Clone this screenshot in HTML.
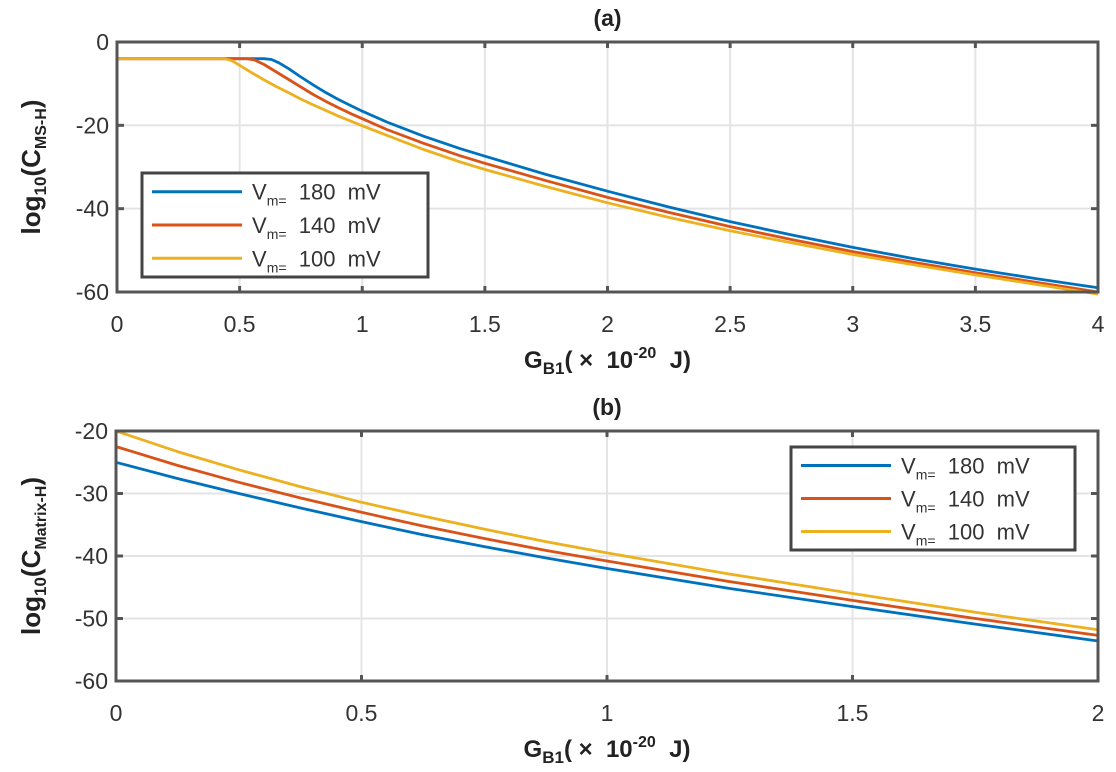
<!DOCTYPE html>
<html><head><meta charset="utf-8"><style>
body{margin:0;background:#fff;}
svg{display:block;font-family:"Liberation Sans",Arial,sans-serif;}
.tick{font-size:23px;fill:#333;}
.ttl{font-size:24px;font-weight:bold;fill:#222;}
.ytl{font-size:26px;font-weight:bold;fill:#222;}
.leg{font-size:22px;fill:#333;}
</style></head><body>
<svg id="chart" width="1116" height="772" viewBox="0 0 1116 772"></svg>
<script>
// ---- panel (a) data ----
const aBlueX=[0,0.3,0.6,0.63,0.66,0.7,0.75,0.8,0.85,0.9,0.95,1,1.1,1.25,1.4,1.5,1.75,2,2.25,2.5,2.75,3,3.25,3.5,3.75,4];
const aBlueY=[-4,-4,-4,-4.2,-5,-6.4,-8.4,-10.3,-12.1,-13.7,-15.2,-16.6,-19.2,-22.6,-25.6,-27.4,-31.8,-35.8,-39.6,-43.1,-46.3,-49.3,-52,-54.5,-56.8,-59];
const aRedX=[0,0.3,0.53,0.56,0.6,0.65,0.7,0.75,0.8,0.85,0.9,0.95,1,1.1,1.25,1.4,1.5,1.75,2,2.25,2.5,2.75,3,3.25,3.5,3.75,4];
const aRedY=[-4,-4,-4,-4.3,-5.4,-7.2,-9,-10.8,-12.6,-14.2,-15.7,-17.1,-18.4,-21,-24.3,-27.3,-29.1,-33.3,-37.3,-40.9,-44.3,-47.4,-50.3,-52.9,-55.4,-57.7,-60];
const aYelX=[0,0.3,0.44,0.47,0.5,0.55,0.6,0.65,0.7,0.75,0.8,0.85,0.9,0.95,1,1.1,1.25,1.4,1.5,1.75,2,2.25,2.5,2.75,3,3.25,3.5,3.75,4];
const aYelY=[-4,-4,-4,-4.5,-5.6,-7.4,-9.1,-10.7,-12.2,-13.7,-15.1,-16.4,-17.7,-18.9,-20.1,-22.4,-25.8,-28.8,-30.6,-34.7,-38.6,-42.1,-45.3,-48.2,-51,-53.5,-55.9,-58.2,-60.5];
const aXTicks=[0,0.5,1,1.5,2,2.5,3,3.5,4];
const aYTicks=[0,-20,-40,-60];
// ---- panel (b) data ----
const bX=[0,0.125,0.25,0.375,0.5,0.625,0.75,0.875,1,1.25,1.5,1.75,2];
const bBlue=[-25,-27.6,-30,-32.3,-34.5,-36.6,-38.5,-40.3,-42,-45.2,-48.1,-50.9,-53.6];
const bRed=[-22.5,-25.5,-28.2,-30.7,-33,-35.2,-37.2,-39.1,-40.8,-44.1,-47.1,-50,-52.7];
const bYel=[-20,-23.3,-26.2,-28.9,-31.4,-33.6,-35.7,-37.7,-39.5,-42.9,-46,-49,-51.8];
const bXTicks=[0,0.5,1,1.5,2];
const bYTicks=[-20,-30,-40,-50,-60];
const labels=["180","140","100"];
const colors=["#0072BD","#D95319","#EDB120"];

const svg=document.getElementById('chart');
const NS="http://www.w3.org/2000/svg";
function mk(tag,attrs,parent){const e=document.createElementNS(NS,tag);for(const k in attrs)e.setAttribute(k,attrs[k]);(parent||svg).appendChild(e);return e;}

function panel(cfg){
  const g=mk('g',{});
  
  
  const sx=v=>cfg.l+(v-cfg.x0)/(cfg.x1-cfg.x0)*(cfg.r-cfg.l);
  const sy=v=>cfg.t+(cfg.y1-v)/(cfg.y1-cfg.y0)*(cfg.b-cfg.t);
  cfg.xt.forEach(v=>{
    const gl=mk('line',{x1:sx(v),x2:sx(v),y1:cfg.t,y2:cfg.b,stroke:'#e4e4e4','stroke-width':2},g);
    
    mk('line',{x1:sx(v),x2:sx(v),y1:cfg.b,y2:cfg.b-6,stroke:'#555','stroke-width':3},g);
    mk('line',{x1:sx(v),x2:sx(v),y1:cfg.t,y2:cfg.t+6,stroke:'#555','stroke-width':3},g);
    const t=mk('text',{x:sx(v),y:cfg.b+40,'text-anchor':'middle',class:'tick'},g);t.textContent=String(v);
    
  });
  cfg.yt.forEach(v=>{
    const gl=mk('line',{x1:cfg.l,x2:cfg.r,y1:sy(v),y2:sy(v),stroke:'#e4e4e4','stroke-width':2},g);
    
    mk('line',{x1:cfg.l,x2:cfg.l+7,y1:sy(v),y2:sy(v),stroke:'#555','stroke-width':3},g);
    mk('line',{x1:cfg.r,x2:cfg.r-7,y1:sy(v),y2:sy(v),stroke:'#555','stroke-width':3},g);
    const t=mk('text',{x:cfg.l-8,y:sy(v)+8,'text-anchor':'end',class:'tick'},g);t.textContent=String(v);
    
  });
  cfg.series.forEach((s,i)=>{
    const pts=s.x.map((xv,j)=>sx(xv).toFixed(1)+','+sy(s.y[j]).toFixed(1)).join(' ');
    const p=mk('polyline',{points:pts,fill:'none',stroke:colors[i],'stroke-width':2.8,'stroke-linejoin':'round'},g);
    
  });
  const ax=mk('rect',{x:cfg.l,y:cfg.t,width:cfg.r-cfg.l,height:cfg.b-cfg.t,fill:'none',stroke:'#555','stroke-width':3},g);
  
  const L=cfg.leg;
  const lg=mk('g',{},g);
  
  mk('rect',{x:L.x,y:L.y,width:L.w,height:L.h,fill:'#fff',stroke:'#444','stroke-width':3},lg);
  labels.forEach((lb,i)=>{
    const yy=L.y+L.h*(0.18+0.32*i);
    const e=mk('g',{},lg);
    
    mk('line',{x1:L.x+10,x2:L.x+L.lw,y1:yy,y2:yy,stroke:colors[i],'stroke-width':3},e);
    const t=mk('text',{x:L.x+L.lw+10,y:yy+8,class:'leg'},e);
    t.innerHTML='V<tspan font-size="14" dy="6">m=</tspan><tspan dy="-6">&#160;&#160;'+lb+'&#160;&#160;mV</tspan>';
  });
  const tt=mk('text',{x:(cfg.l+cfg.r)/2,y:cfg.t-16,'text-anchor':'middle',class:'ttl',style:'font-size:23px'},g);
  tt.textContent=cfg.title;
  const xt=mk('text',{x:(cfg.l+cfg.r)/2,y:cfg.b+76,'text-anchor':'middle',class:'ttl'},g);
  xt.innerHTML='G<tspan font-size="17" dy="6">B1</tspan><tspan dy="-6">(&#160;×&#160;&#160;10</tspan><tspan font-size="16" dy="-10">-20</tspan><tspan dy="10">&#160;&#160;J)</tspan>';
  
  const cy=(cfg.t+cfg.b)/2;
  const yt=mk('text',{x:0,y:0,'text-anchor':'middle',class:'ytl',transform:'translate(40,'+cy+') rotate(-90)'},g);
  yt.innerHTML='log<tspan font-size="17" dy="6">10</tspan><tspan dy="-6">(C</tspan><tspan font-size="16" dy="6">'+cfg.sub+'</tspan><tspan dy="-6">)</tspan>';
  
}
panel({name:'panel-a',title:'(a)',sub:'MS-H',l:117,r:1098,t:42,b:292,x0:0,x1:4,y0:-60,y1:0,xt:aXTicks,yt:aYTicks,
  series:[{x:aBlueX,y:aBlueY},{x:aRedX,y:aRedY},{x:aYelX,y:aYelY}],
  leg:{x:142,y:173,w:286,h:104,lw:100}});
panel({name:'panel-b',title:'(b)',sub:'Matrix-H',l:116,r:1098,t:431,b:681,x0:0,x1:2,y0:-60,y1:-20,xt:bXTicks,yt:bYTicks,
  series:[{x:bX,y:bBlue},{x:bX,y:bRed},{x:bX,y:bYel}],
  leg:{x:791,y:447,w:284,h:103,lw:100}});
</script>
</body></html>
